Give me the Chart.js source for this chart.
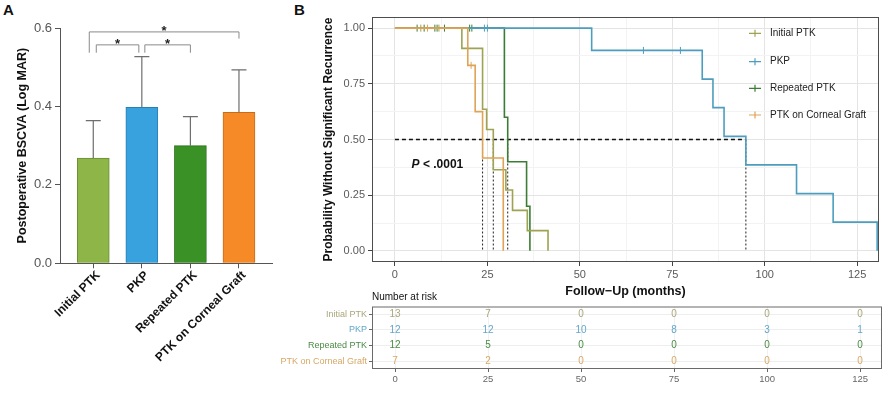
<!DOCTYPE html>
<html>
<head>
<meta charset="utf-8">
<script src="https://cdn.jsdelivr.net/npm/chart.js@4.4.1/dist/chart.umd.min.js"></script>
<style>
  body { margin: 0; background: #fff; width: 884px; height: 398px; position: relative; overflow: hidden; font-family: Arial, "Liberation Sans", sans-serif; }
  canvas { position: absolute; }
  .panel { position: absolute; font-weight: bold; font-size: 15px; color: #111; }
</style>
</head>
<body>
<div class="panel" style="left:3px;top:1px">A</div>
<div class="panel" style="left:294px;top:1px">B</div>
<canvas id="barChart" width="290" height="398" style="left:0;top:0"></canvas>
<canvas id="riskChart" width="604" height="112" style="left:280px;top:286px"></canvas>
<canvas id="kmChart" width="584" height="300" style="left:300px;top:0"></canvas>
<script>
// ---- data ----
const groups = ['Initial PTK', 'PKP', 'Repeated PTK', 'PTK on Corneal Graft'];

// panel A: postoperative BSCVA, mean and upper error
const bcvaMean = [0.268, 0.398, 0.300, 0.385];
const bcvaErr = [0.096, 0.129, 0.074, 0.108];
const sigPairs = [[0, 1], [1, 2], [0, 3]];
const sigLevels = [0.557, 0.557, 0.590];
const sigLegs = [[0.537, 0.537], [0.537, 0.537], [0.537, 0.573]];
const sigLabels = ['*', '*', '*'];

// panel B: Kaplan-Meier steps (time in months, survival)
const initialT = [0, 18.1, 23.7, 24.8, 26.6, 30.0, 31.8, 35.8, 41.4];
const initialS = [1, 0.909, 0.636, 0.545, 0.364, 0.273, 0.182, 0.091, 0];
const pkpT = [0, 53.2, 83.1, 86.0, 89.0, 94.9, 108.6, 118.5, 130.4];
const pkpS = [1, 0.9, 0.771, 0.643, 0.514, 0.386, 0.257, 0.129, 0];
const repeatedT = [0, 29.6, 30.5, 35.6, 36.5];
const repeatedS = [1, 0.6, 0.4, 0.2, 0];
const graftT = [0, 19.7, 21.7, 23.7, 29.3];
const graftS = [1, 0.833, 0.625, 0.417, 0];

// censored observations
const initialCensT = [7.0, 11.9];
const initialCensS = [1, 1];
const pkpCensT = [24.2, 25.0, 67.2, 77.2];
const pkpCensS = [1, 1, 0.9, 0.9];
const repeatedCensT = [6.0, 7.9, 10.8, 11.4, 13.4, 20.2, 20.8];
const repeatedCensS = [1, 1, 1, 1, 1, 1, 1];
const graftCensT = [8.8, 20.6];
const graftCensS = [1, 0.833];

// median survival times
const medianTimes = [26.6, 94.9, 30.5, 23.7];
const medianLevel = 0.5;

const xTicks = [0, 25, 50, 75, 100, 125];
const yTicks = [0, 0.25, 0.5, 0.75, 1];

// number at risk table
const riskTimes = [0, 25, 50, 75, 100, 125];
const riskInitial = [13, 7, 0, 0, 0, 0];
const riskPKP = [12, 12, 10, 8, 3, 1];
const riskRepeated = [12, 5, 0, 0, 0, 0];
const riskGraft = [7, 2, 0, 0, 0, 0];

// ---- styles ----
const FONT = 'Arial, "Liberation Sans", sans-serif';
Chart.defaults.font.family = FONT;
Chart.defaults.animation = false;

const barColors = ['#8db548', '#37a2de', '#3a9226', '#f58a27'];
const barBorders = ['#6d8c36', '#2b7fb0', '#2c6e1c', '#c56d1c'];
const curveColors = ['#9da352', '#4d9dbf', '#3b7d35', '#dfa356'];
const tableColors = ['#aaa77a', '#62a7cb', '#4a8a45', '#d8a866'];

// ---- panel A ----
const barExtras = {
    id: 'barExtras',
    afterDatasetsDraw(chart) {
        const { ctx, scales: { x, y } } = chart;
        ctx.save();
        ctx.strokeStyle = '#6e6e6e';
        ctx.lineWidth = 1.2;
        bcvaMean.forEach((m, i) => {
            const px = x.getPixelForValue(i);
            const top = y.getPixelForValue(m + bcvaErr[i]);
            ctx.beginPath();
            ctx.moveTo(px, y.getPixelForValue(m));
            ctx.lineTo(px, top);
            ctx.moveTo(px - 7.5, top);
            ctx.lineTo(px + 7.5, top);
            ctx.stroke();
        });
        // significance brackets
        ctx.strokeStyle = '#8a8a8a';
        ctx.lineWidth = 1;
        ctx.fillStyle = '#222';
        ctx.font = 'bold 13px ' + FONT;
        ctx.textAlign = 'center';
        ctx.textBaseline = 'alphabetic';
        const shifts = [[3, -3], [3, 0], [-4, 0]];
        sigPairs.forEach((p, k) => {
            const x1 = x.getPixelForValue(p[0]) + shifts[k][0];
            const x2 = x.getPixelForValue(p[1]) + shifts[k][1];
            const yl = y.getPixelForValue(sigLevels[k]);
            ctx.beginPath();
            ctx.moveTo(x1, y.getPixelForValue(sigLegs[k][0]));
            ctx.lineTo(x1, yl);
            ctx.lineTo(x2, yl);
            ctx.lineTo(x2, y.getPixelForValue(sigLegs[k][1]));
            ctx.stroke();
            ctx.fillText(sigLabels[k], (x1 + x2) / 2, yl + 3);
        });
        ctx.restore();
    }
};

new Chart(document.getElementById('barChart'), {
    type: 'bar',
    data: {
        datasets: [{
            data: bcvaMean.map((v, i) => ({ x: i, y: v })),
            backgroundColor: barColors,
            borderColor: barBorders,
            borderWidth: 1,
            barThickness: 32
        }]
    },
    options: {
        responsive: false,
        layout: { padding: { top: 28, right: 18, left: 0, bottom: 0 } },
        plugins: { legend: { display: false }, tooltip: { enabled: false } },
        scales: {
            x: {
                type: 'linear', min: -0.685, max: 3.68, offset: false,
                afterBuildTicks: s => { s.ticks = groups.map((g, i) => ({ value: i })); },
                ticks: {
                    callback: v => groups[v],
                    autoSkip: false, maxRotation: 45, minRotation: 45, labelOffset: 5,
                    color: '#111', font: { size: 12, weight: 'bold' }, padding: 0
                },
                grid: { drawOnChartArea: false, offset: false, tickLength: 5, color: '#555' },
                border: { color: '#555' },
                afterFit: s => { s.height = 134.7; }
            },
            y: {
                min: 0, max: 0.6,
                ticks: { stepSize: 0.2, callback: v => v.toFixed(1), color: '#555', font: { size: 13 }, padding: 3 },
                title: {
                    display: true, text: 'Postoperative BSCVA (Log MAR)', color: '#111',
                    font: { size: 12.5, weight: 'bold' }, padding: { top: 15, bottom: 0 }
                },
                grid: { drawOnChartArea: false, tickLength: 5, color: '#555' },
                border: { color: '#555' },
                afterFit: s => { s.width = 60; }
            }
        }
    },
    plugins: [barExtras]
});

// ---- panel B ----
function withMinor(arr) {
    const out = [];
    arr.forEach((v, i) => {
        out.push(v);
        if (i < arr.length - 1) out.push((v + arr[i + 1]) / 2);
    });
    return out;
}

function stepSet(label, T, S, color, order) {
    return {
        label, order, data: T.map((t, i) => ({ x: t, y: S[i] })),
        stepped: true, borderColor: color, borderWidth: 1.6, pointRadius: 0, fill: false
    };
}

function censorSet(T, S, color, order) {
    return {
        order, data: T.map((t, i) => ({ x: t, y: S[i] })),
        showLine: false, pointStyle: 'line', rotation: 90, pointRadius: 3.5,
        pointBorderWidth: 1, borderColor: color, backgroundColor: color
    };
}

const medianSets = [{
    order: 10,
    data: [{ x: 0, y: medianLevel }, { x: Math.max(...medianTimes), y: medianLevel }],
    borderColor: '#111', borderWidth: 1.6, borderDash: [4, 3], pointRadius: 0
}].concat(medianTimes.map(m => ({
    order: 10,
    data: [{ x: m, y: medianLevel }, { x: m, y: 0 }],
    borderColor: '#222', borderWidth: 1, borderDash: [2, 2], pointRadius: 0
})));

const kmExtras = {
    id: 'kmExtras',
    afterDraw(chart) {
        const { ctx, chartArea: a, scales: { x, y } } = chart;
        ctx.save();
        ctx.strokeStyle = '#4d4d4d';
        ctx.lineWidth = 1;
        ctx.strokeRect(a.left + 0.5, a.top + 0.5, a.right - a.left - 1, a.bottom - a.top - 1);

        // legend inside panel
        const rows = [33.3, 61.7, 88.3, 115];
        ctx.font = '10px ' + FONT;
        ctx.textAlign = 'left';
        ctx.textBaseline = 'middle';
        groups.forEach((g, i) => {
            ctx.strokeStyle = curveColors[i];
            ctx.lineWidth = 1.2;
            ctx.beginPath();
            ctx.moveTo(449, rows[i]); ctx.lineTo(461, rows[i]);
            ctx.moveTo(455, rows[i] - 3.5); ctx.lineTo(455, rows[i] + 3.5);
            ctx.stroke();
            ctx.fillStyle = '#222';
            ctx.fillText(g, 470, rows[i]);
        });

        // p-value
        const px = x.getPixelForValue(4.5);
        const py = y.getPixelForValue(0.386);
        ctx.fillStyle = '#111';
        ctx.font = 'italic bold 12px ' + FONT;
        ctx.fillText('P', px, py);
        const w = ctx.measureText('P').width;
        ctx.font = 'bold 12px ' + FONT;
        ctx.fillText(' < .0001', px + w, py);
        ctx.restore();
    }
};

new Chart(document.getElementById('kmChart'), {
    type: 'line',
    data: {
        datasets: [
            stepSet('PTK on Corneal Graft', graftT, graftS, curveColors[3], 0),
            censorSet(graftCensT, graftCensS, curveColors[3], 0),
            stepSet('Initial PTK', initialT, initialS, curveColors[0], 1),
            censorSet(initialCensT, initialCensS, curveColors[0], 1),
            stepSet('PKP', pkpT, pkpS, curveColors[1], 2),
            censorSet(pkpCensT, pkpCensS, curveColors[1], 2),
            stepSet('Repeated PTK', repeatedT, repeatedS, curveColors[2], 3),
            censorSet(repeatedCensT, repeatedCensS, curveColors[2], 3)
        ].concat(medianSets)
    },
    options: {
        responsive: false,
        layout: { padding: { top: 17, right: 2, left: 0, bottom: 0 } },
        plugins: { legend: { display: false }, tooltip: { enabled: false } },
        scales: {
            x: {
                type: 'linear', min: -6.2, max: 130.9,
                afterBuildTicks: s => { s.ticks = withMinor(xTicks).map(v => ({ value: v })); },
                ticks: {
                    callback: v => xTicks.includes(v) ? String(v) : '',
                    autoSkip: false, maxRotation: 0, color: '#5a5a5a', font: { size: 11 }, padding: 2
                },
                title: {
                    display: true, text: 'Follow\u2212Up (months)', color: '#111',
                    font: { size: 12.5, weight: 'bold' }, padding: { top: 0, bottom: 0.5 }
                },
                grid: {
                    color: c => c.tick && xTicks.includes(c.tick.value) ? '#e4e4e4' : '#f3f3f3',
                    tickColor: c => c.tick && xTicks.includes(c.tick.value) ? '#444' : 'rgba(0,0,0,0)',
                    tickLength: 4
                },
                border: { display: false },
                afterFit: s => { s.height = 38; }
            },
            y: {
                min: -0.05, max: 1.05,
                afterBuildTicks: s => { s.ticks = withMinor(yTicks).map(v => ({ value: v })); },
                ticks: {
                    callback: v => yTicks.includes(v) ? v.toFixed(2) : '',
                    autoSkip: false, color: '#5a5a5a', font: { size: 11 }, padding: 3
                },
                title: {
                    display: true, text: 'Probability Without Significant Recurrence', color: '#111',
                    font: { size: 12, weight: 'bold' }, padding: { top: 21, bottom: 0 }
                },
                grid: {
                    color: c => c.tick && yTicks.includes(c.tick.value) ? '#e4e4e4' : '#f3f3f3',
                    tickColor: c => c.tick && yTicks.includes(c.tick.value) ? '#444' : 'rgba(0,0,0,0)',
                    tickLength: 4
                },
                border: { display: false },
                afterFit: s => { s.width = 72; }
            }
        }
    },
    plugins: [kmExtras]
});

// ---- risk table ----
const riskRows = [riskInitial, riskPKP, riskRepeated, riskGraft];

const riskExtras = {
    id: 'riskExtras',
    afterDraw(chart) {
        const { ctx, chartArea: a, scales: { x, y } } = chart;
        ctx.save();
        ctx.strokeStyle = '#6a6a6a';
        ctx.lineWidth = 1;
        ctx.strokeRect(a.left + 0.5, a.top + 0.5, a.right - a.left - 1, a.bottom - a.top - 1);
        ctx.font = '10px ' + FONT;
        ctx.textAlign = 'center';
        ctx.textBaseline = 'middle';
        riskRows.forEach((row, i) => {
            ctx.fillStyle = tableColors[i];
            row.forEach((n, j) => {
                ctx.fillText(String(n), x.getPixelForValue(riskTimes[j]), y.getPixelForValue(i));
            });
        });
        ctx.fillStyle = '#111';
        ctx.textAlign = 'left';
        ctx.font = '10px ' + FONT;
        ctx.fillText('Number at risk', a.left, 11.7);
        ctx.restore();
    }
};

new Chart(document.getElementById('riskChart'), {
    type: 'scatter',
    data: { datasets: [] },
    options: {
        responsive: false,
        layout: { padding: { top: 20.5, right: 2, left: 0, bottom: 0 } },
        plugins: { legend: { display: false }, tooltip: { enabled: false } },
        scales: {
            x: {
                type: 'linear', min: -6.2, max: 130.9,
                afterBuildTicks: s => { s.ticks = riskTimes.map(v => ({ value: v })); },
                ticks: { autoSkip: false, maxRotation: 0, color: '#666', font: { size: 9.5 }, padding: 2 },
                grid: { color: '#f1f1f1', tickColor: '#666', tickLength: 3 },
                border: { display: false },
                afterFit: s => { s.height = 29; }
            },
            y: {
                type: 'category', labels: groups, offset: true,
                ticks: { color: c => tableColors[c.index], font: { size: 9 }, padding: 2 },
                grid: { color: '#eeeeee', tickColor: '#666', tickLength: 3, offset: false },
                border: { display: false },
                afterFit: s => { s.width = 92; }
            }
        }
    },
    plugins: [riskExtras]
});
</script>
</body>
</html>
